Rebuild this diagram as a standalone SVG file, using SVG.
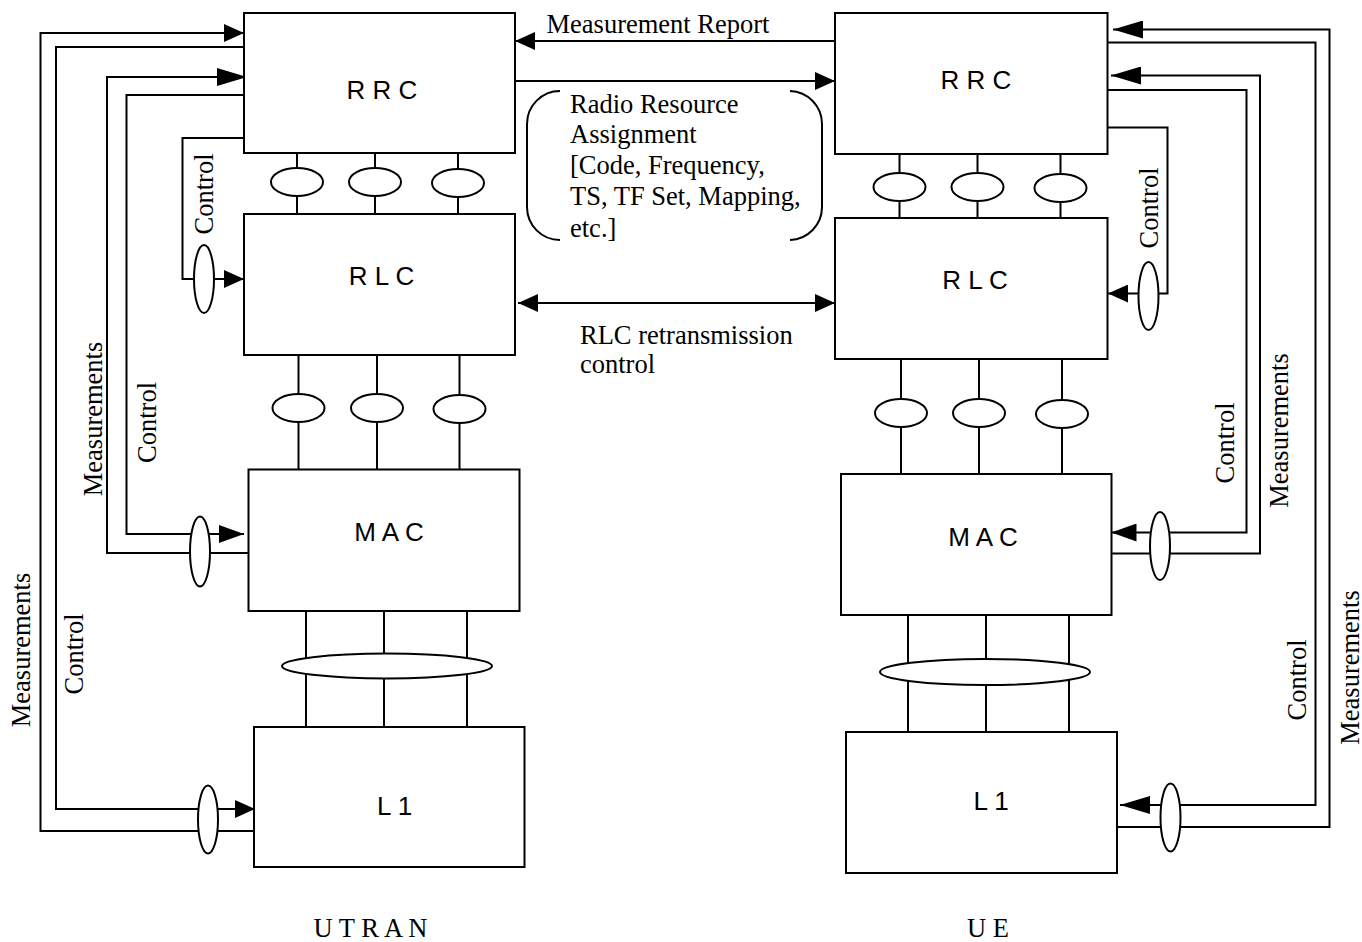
<svg xmlns="http://www.w3.org/2000/svg" width="1362" height="942" viewBox="0 0 1362 942">
<style>
.box{fill:#fff;stroke:#000;stroke-width:2}
.ln{fill:none;stroke:#000;stroke-width:2}
.ov{fill:#fff;stroke:#000;stroke-width:2}
.lbl{font-family:"Liberation Sans",Arial,sans-serif;font-size:26px;fill:#000;text-anchor:middle}
.ser{font-family:"Liberation Serif","Times New Roman",serif;font-size:26.5px;fill:#000}
.rot{font-family:"Liberation Serif","Times New Roman",serif;font-size:26.5px;fill:#000;text-anchor:middle}
</style>
<defs>
<marker id="a20" markerUnits="userSpaceOnUse" markerWidth="20" markerHeight="18" refX="20" refY="9" orient="auto-start-reverse"><path d="M0,0 L20,9 L0,18 z" fill="#000"/></marker>
<marker id="a25" markerUnits="userSpaceOnUse" markerWidth="25" markerHeight="18" refX="25" refY="9" orient="auto-start-reverse"><path d="M0,0 L25,9 L0,18 z" fill="#000"/></marker>
<marker id="a30" markerUnits="userSpaceOnUse" markerWidth="30" markerHeight="18" refX="30" refY="9" orient="auto-start-reverse"><path d="M0,0 L30,9 L0,18 z" fill="#000"/></marker>
</defs>
<rect width="1362" height="942" fill="#fff"/>

<g id="connectors">
<path class="ln" d="M254,831 H40.5 V33 H244" marker-end="url(#a20)"/>
<path class="ln" d="M244,47 H56 V809 H255" marker-end="url(#a20)"/>
<path class="ln" d="M248.5,553 H107 V77 H247" marker-end="url(#a30)"/>
<path class="ln" d="M244,95 H126.5 V534 H244" marker-end="url(#a25)"/>
<path class="ln" d="M244,138 H182.5 V279 H244" marker-end="url(#a20)"/>
<path class="ln" d="M1117,827 H1329.5 V29.5 H1113" marker-end="url(#a30)"/>
<path class="ln" d="M1107.5,42.5 H1315.5 V805 H1120" marker-end="url(#a30)"/>
<path class="ln" d="M1111.5,553.5 H1260 V75.5 H1111" marker-end="url(#a30)"/>
<path class="ln" d="M1107.5,90 H1246.5 V532.5 H1111.5" marker-end="url(#a25)"/>
<path class="ln" d="M1107.5,127.5 H1167.5 V293.5 H1108" marker-end="url(#a20)"/>
<path class="ln" d="M835,41 H515" marker-end="url(#a20)"/>
<path class="ln" d="M515,81 H835" marker-end="url(#a20)"/>
<path class="ln" d="M518,303 H835" marker-start="url(#a20)" marker-end="url(#a20)"/>
<path class="ln" d="M297,153 V214 M375,153 V214 M458,153 V214"/>
<path class="ln" d="M298.5,355 V469.5 M377,355 V469.5 M459.5,355 V469.5"/>
<path class="ln" d="M306,611 V727 M384,611 V727 M467,611 V727"/>
<path class="ln" d="M899.5,154 V218 M977.5,154 V218 M1060.5,154 V218"/>
<path class="ln" d="M901,359 V474 M979,359 V474 M1062,359 V474"/>
<path class="ln" d="M908,615 V732 M986,615 V732 M1069,615 V732"/>
<ellipse class="ov" cx="297" cy="182" rx="26" ry="14"/>
<ellipse class="ov" cx="375" cy="182" rx="26" ry="14"/>
<ellipse class="ov" cx="458" cy="183" rx="26" ry="14"/>
<ellipse class="ov" cx="298.5" cy="408" rx="26" ry="14"/>
<ellipse class="ov" cx="377" cy="408" rx="26" ry="14"/>
<ellipse class="ov" cx="459.5" cy="409" rx="26" ry="14"/>
<ellipse class="ov" cx="387" cy="666" rx="105" ry="12.5"/>
<ellipse class="ov" cx="899.5" cy="187" rx="26" ry="14"/>
<ellipse class="ov" cx="977.5" cy="187" rx="26" ry="14"/>
<ellipse class="ov" cx="1060.5" cy="188" rx="26" ry="14"/>
<ellipse class="ov" cx="901" cy="413" rx="26" ry="14"/>
<ellipse class="ov" cx="979" cy="413" rx="26" ry="14"/>
<ellipse class="ov" cx="1062" cy="414" rx="26" ry="14"/>
<ellipse class="ov" cx="985" cy="672" rx="105" ry="13"/>
<ellipse class="ov" cx="204" cy="279" rx="10" ry="34"/>
<ellipse class="ov" cx="200" cy="551.5" rx="10" ry="35"/>
<ellipse class="ov" cx="208" cy="819.5" rx="10" ry="34"/>
<ellipse class="ov" cx="1148.5" cy="296" rx="10" ry="34"/>
<ellipse class="ov" cx="1160" cy="546" rx="10" ry="34"/>
<ellipse class="ov" cx="1170.5" cy="817.5" rx="10" ry="34"/>
<path class="ln" d="M560,91 A33,33 0 0 0 527,124 V207 A33,33 0 0 0 560,240"/>
<path class="ln" d="M790,91 A33,33 0 0 1 822,124 V207 A33,33 0 0 1 790,240"/>
</g>

<g id="utran-rrc"><rect class="box" x="244" y="13" width="271" height="140"/><text class="lbl" x="382" y="99">R R C</text></g>
<g id="utran-rlc"><rect class="box" x="244" y="214" width="271" height="141"/><text class="lbl" x="381.5" y="285">R L C</text></g>
<g id="utran-mac"><rect class="box" x="248.5" y="469.5" width="271" height="141.5"/><text class="lbl" x="389" y="541">M A C</text></g>
<g id="utran-l1"><rect class="box" x="254" y="727" width="270.5" height="140"/><text class="lbl" x="394.5" y="815">L 1</text></g>
<g id="ue-rrc"><rect class="box" x="835" y="13" width="272.5" height="141"/><text class="lbl" x="976" y="89">R R C</text></g>
<g id="ue-rlc"><rect class="box" x="835" y="218" width="272.5" height="141"/><text class="lbl" x="975" y="289">R L C</text></g>
<g id="ue-mac"><rect class="box" x="841" y="474" width="270.5" height="141"/><text class="lbl" x="983" y="546">M A C</text></g>
<g id="ue-l1"><rect class="box" x="846" y="732" width="271" height="141"/><text class="lbl" x="991" y="810">L 1</text></g>

<g id="labels">
<text class="ser" x="546.5" y="33">Measurement Report</text>
<text class="ser" x="570" y="113">Radio Resource</text>
<text class="ser" x="570" y="143">Assignment</text>
<text class="ser" x="570" y="174">[Code, Frequency,</text>
<text class="ser" x="570" y="205">TS, TF Set, Mapping,</text>
<text class="ser" x="570" y="237">etc.]</text>
<text class="ser" x="580" y="344">RLC retransmission</text>
<text class="ser" x="580" y="373">control</text>
<text class="rot" transform="translate(213,194) rotate(-90)">Control</text>
<text class="rot" transform="translate(102,419) rotate(-90)">Measurements</text>
<text class="rot" transform="translate(156,422.5) rotate(-90)">Control</text>
<text class="rot" transform="translate(83,654) rotate(-90)">Control</text>
<text class="rot" transform="translate(29.5,650) rotate(-90)">Measurements</text>
<text class="rot" transform="translate(1158,208) rotate(-90)">Control</text>
<text class="rot" transform="translate(1234,443) rotate(-90)">Control</text>
<text class="rot" transform="translate(1288,430.5) rotate(-90)">Measurements</text>
<text class="rot" transform="translate(1306,680) rotate(-90)">Control</text>
<text class="rot" transform="translate(1358.5,667.5) rotate(-90)">Measurements</text>
<text class="ser" x="370.5" y="937" text-anchor="middle">U T R A N</text>
<text class="ser" x="988" y="937" text-anchor="middle">U E</text>
</g>
</svg>
